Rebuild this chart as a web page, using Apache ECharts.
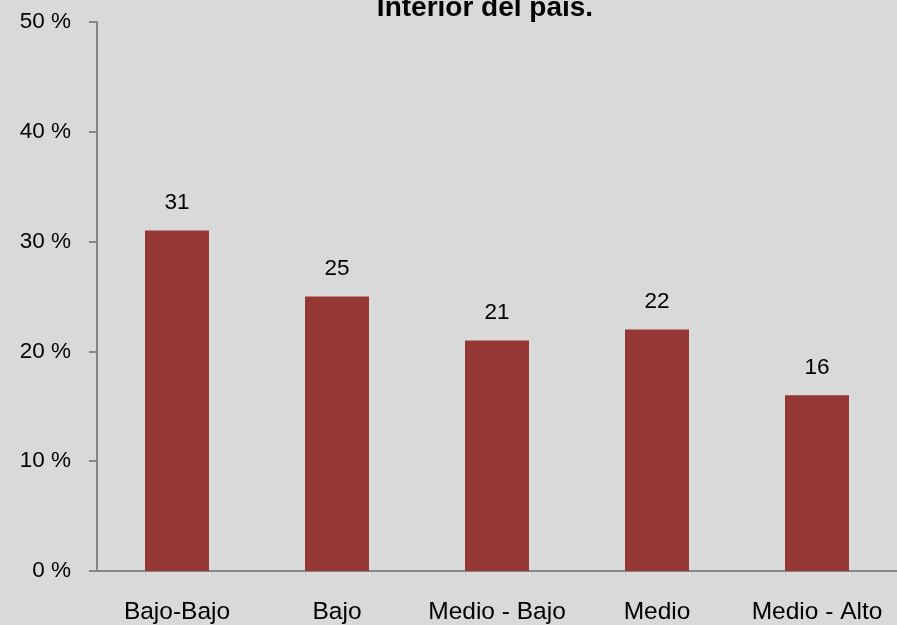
<!DOCTYPE html>
<html><head><meta charset="utf-8">
<script src="https://cdn.jsdelivr.net/npm/echarts@6/dist/echarts.min.js"></script>
<style>html,body{margin:0;padding:0;background:#d9d9d9}#c{width:897px;height:625px}</style>
</head><body><div id="c"></div>
<script>
var categories = ['Bajo-Bajo', 'Bajo', 'Medio - Bajo', 'Medio', 'Medio - Alto'];
var values = [31, 25, 21, 22, 16];
var titleText = 'Interior del país.';

var chart = echarts.init(document.getElementById('c'));
chart.setOption({
  backgroundColor: '#d9d9d9',
  animation: false,
  title: {
    text: titleText,
    left: 480, top: -11, textAlign: 'center',
    textStyle: {fontFamily: 'Liberation Sans', fontWeight: 'bold', fontSize: 28, color: '#000'}
  },
  grid: {left: 97, top: 22, width: 810, bottom: 54, containLabel: false},
  xAxis: {
    type: 'category', data: categories,
    axisLine: {lineStyle: {color: '#868686', width: 2}},
    axisTick: {show: false},
    axisLabel: {color: '#000', fontFamily: 'Liberation Sans', fontSize: 24.5, margin: 29, interval: 0}
  },
  yAxis: {
    type: 'value', min: 0, max: 50, interval: 10,
    axisLine: {show: true, lineStyle: {color: '#868686', width: 2}},
    axisTick: {show: true, length: 8, lineStyle: {color: '#868686', width: 2}},
    splitLine: {show: false},
    axisLabel: {color: '#000', fontFamily: 'Liberation Sans', fontSize: 22.5, margin: 26, formatter: '{value} %'}
  },
  series: [{
    type: 'bar', data: values, barWidth: '40%',
    itemStyle: {color: '#953735'},
    label: {show: true, position: 'top', distance: 16, color: '#000', fontFamily: 'Liberation Sans', fontSize: 22.5}
  }]
});
</script></body></html>
